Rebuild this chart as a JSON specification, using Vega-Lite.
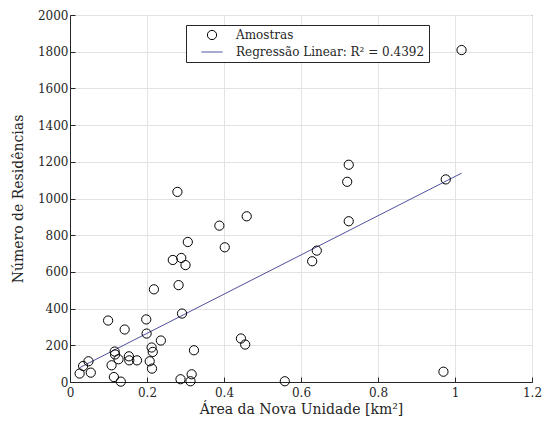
{
  "$schema": "https://vega.github.io/schema/vega-lite/v6.json",
  "autosize": {"type": "none"},
  "width": 462,
  "height": 367,
  "padding": {"left": 70, "top": 15, "right": 15, "bottom": 46},
  "background": "white",
  "config": {
    "font": "DejaVu Serif",
    "view": {"stroke": "#262626", "strokeWidth": 1},
    "axis": {
      "labelFont": "DejaVu Serif",
      "titleFont": "DejaVu Serif",
      "labelFontSize": 12,
      "titleFontSize": 14,
      "titleFontWeight": "normal",
      "labelColor": "#262626",
      "titleColor": "#262626",
      "domainColor": "#262626",
      "tickColor": "#262626",
      "gridColor": "#e3e3e3",
      "gridOpacity": 1,
      "tickSize": -5,
      "labelOverlap": false,
      "labelFlush": false
    },
    "legend": {"labelFont": "DejaVu Serif"}
  },
  "datasets": {
    "amostras": [
      {"area": 0.025, "res": 46},
      {"area": 0.034, "res": 87},
      {"area": 0.048, "res": 113},
      {"area": 0.054, "res": 51},
      {"area": 0.099, "res": 335},
      {"area": 0.108, "res": 91},
      {"area": 0.114, "res": 27},
      {"area": 0.116, "res": 166},
      {"area": 0.117, "res": 150},
      {"area": 0.126, "res": 124},
      {"area": 0.132, "res": 2},
      {"area": 0.142, "res": 286},
      {"area": 0.153, "res": 140},
      {"area": 0.154, "res": 118},
      {"area": 0.174, "res": 118},
      {"area": 0.198, "res": 341},
      {"area": 0.199, "res": 264},
      {"area": 0.207, "res": 113},
      {"area": 0.212, "res": 188},
      {"area": 0.215, "res": 164},
      {"area": 0.213, "res": 73},
      {"area": 0.218, "res": 505},
      {"area": 0.236, "res": 226},
      {"area": 0.267, "res": 665},
      {"area": 0.279, "res": 1036},
      {"area": 0.282, "res": 528},
      {"area": 0.287, "res": 15},
      {"area": 0.289, "res": 676},
      {"area": 0.291, "res": 373},
      {"area": 0.300, "res": 637},
      {"area": 0.306, "res": 763},
      {"area": 0.313, "res": 4},
      {"area": 0.316, "res": 42},
      {"area": 0.322, "res": 173},
      {"area": 0.388, "res": 852},
      {"area": 0.402, "res": 734},
      {"area": 0.444, "res": 237},
      {"area": 0.455, "res": 204},
      {"area": 0.459, "res": 903},
      {"area": 0.558, "res": 4},
      {"area": 0.629, "res": 658},
      {"area": 0.641, "res": 716},
      {"area": 0.720, "res": 1091},
      {"area": 0.724, "res": 1184},
      {"area": 0.724, "res": 876},
      {"area": 0.970, "res": 56},
      {"area": 0.976, "res": 1104},
      {"area": 1.017, "res": 1809}
    ],
    "regressao": [
      {"area": 0.025, "res": 78},
      {"area": 1.017, "res": 1138}
    ]
  },
  "encoding": {
    "x": {
      "field": "area", "type": "quantitative",
      "scale": {"domain": [0, 1.2], "nice": false},
      "axis": {"values": [0, 0.2, 0.4, 0.6, 0.8, 1, 1.2], "format": "~g", "title": "Área da Nova Unidade [km²]", "titlePadding": 4, "labelPadding": 10}
    },
    "y": {
      "field": "res", "type": "quantitative",
      "scale": {"domain": [0, 2000], "nice": false},
      "axis": {"values": [0, 200, 400, 600, 800, 1000, 1200, 1400, 1600, 1800, 2000], "format": "d", "title": "Número de Residências", "titlePadding": 12, "labelPadding": 7}
    }
  },
  "layer": [
    {
      "data": {"name": "regressao"},
      "mark": {"type": "line", "color": "#5050a0", "strokeWidth": 1}
    },
    {
      "data": {"name": "amostras"},
      "transform": [{"calculate": "'Amostras'", "as": "serie"}],
      "mark": {"type": "point", "filled": false, "strokeWidth": 1, "opacity": 1, "size": 85},
      "encoding": {
        "color": {
          "field": "serie", "type": "nominal",
          "scale": {"domain": ["Amostras", "Regressão Linear: R² = 0.4392"], "range": ["#000000", "#5050a0"]},
          "legend": {
            "title": null,
            "orient": "none",
            "legendX": 116,
            "legendY": 10,
            "strokeColor": "#262626",
            "fillColor": "white",
            "padding": 4,
            "labelFont": "DejaVu Serif",
            "labelFontSize": 12,
            "labelColor": "#262626",
            "labelLimit": 400,
            "symbolStrokeWidth": 1,
            "symbolSize": 85,
            "symbolOffset": 16,
            "labelOffset": 18,
            "rowPadding": 4
          }
        },
        "shape": {
          "field": "serie", "type": "nominal",
          "scale": {"domain": ["Amostras", "Regressão Linear: R² = 0.4392"], "range": ["circle", "M-2.3,0H2.3"]}
        }
      }
    }
  ]
}
